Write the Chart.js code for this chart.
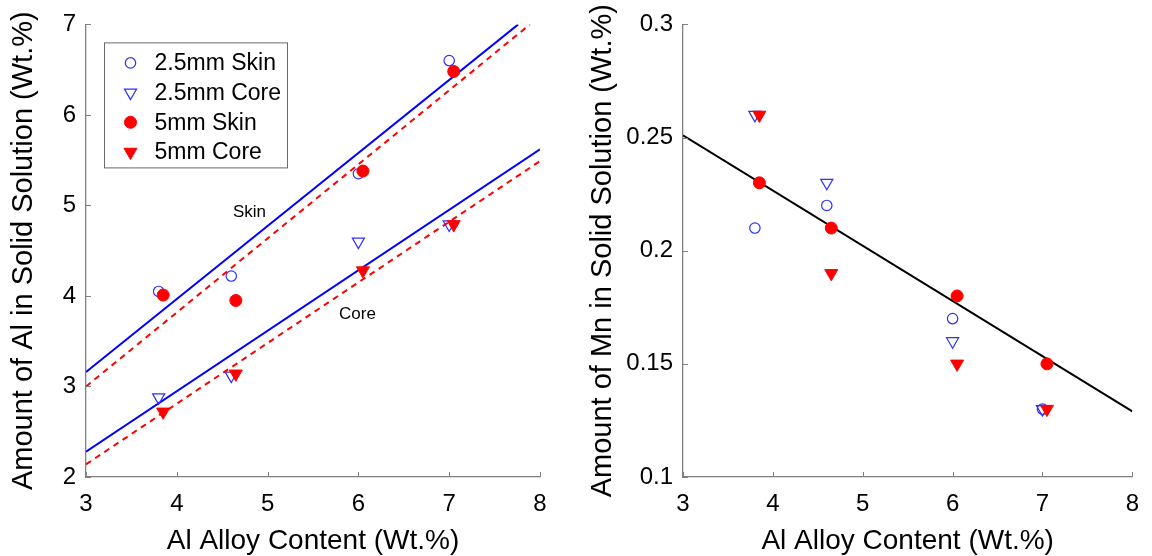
<!DOCTYPE html>
<html><head><meta charset="utf-8">
<script src="https://cdn.jsdelivr.net/npm/chart.js@4/dist/chart.umd.min.js"></script>
<style>html,body{margin:0;padding:0;background:#fff;overflow:hidden;width:1152px;height:556px}
canvas{position:absolute;top:0}
#c1{left:0}#c2{left:576px}</style></head>
<body><canvas id="c1" width="576" height="556"></canvas><canvas id="c2" width="576" height="556"></canvas>
<script>
const FONT = "'Liberation Sans', Arial, Helvetica, sans-serif";
// x positions of samples (2.5 mm and 5 mm are slightly offset in the figure)
const x25 = [3.8, 4.6, 6.0, 7.0];
const x5 = [3.85, 4.65, 6.05, 7.05];
// Amount of Al in solid solution
const alSkin25 = [4.05, 4.22, 5.35, 6.60];
const alCore25 = [2.88, 3.12, 4.60, 4.79];
const alSkin5 = [4.01, 3.95, 5.38, 6.48];
const alCore5 = [2.72, 3.14, 4.28, 4.79];
// Fit lines (endpoints)
const fitSkin25X = [3, 7.76], fitSkin25Y = [3.16, 7.0];
const fitSkin5X = [3, 7.89], fitSkin5Y = [3.0, 7.0];
const fitCore25X = [3, 8], fitCore25Y = [2.28, 5.62];
const fitCore5X = [3, 8], fitCore5Y = [2.14, 5.49];
// Amount of Mn in solid solution
const mnSkin25 = [0.21, 0.22, 0.17, 0.13];
const mnCore25 = [0.26, 0.23, 0.16, 0.13];
const mnSkin5 = [0.23, 0.21, 0.18, 0.15];
const mnCore5 = [0.26, 0.19, 0.15, 0.13];
const fitMnX = [3, 8], fitMnY = [0.251, 0.129];
// ticks & labels
const xTicks = [3, 4, 5, 6, 7, 8];
const alTicks = [2, 3, 4, 5, 6, 7];
const mnTicks = [0.1, 0.15, 0.2, 0.25, 0.3];
const seriesNames = ['2.5mm Skin', '2.5mm Core', '5mm Skin', '5mm Core'];
const xTitle = 'Al Alloy Content (Wt.%)';
const alTitle = 'Amount of Al in Solid Solution (Wt.%)';
const mnTitle = 'Amount of Mn in Solid Solution (Wt.%)';
const annotations = [{text: 'Skin', x: 4.8, y: 4.92}, {text: 'Core', x: 5.99, y: 3.8}];

const BLUE = '#2f2fff', RED = '#ff0000', AXIS = '#808080';
const pts = (xs, ys) => xs.map((x, i) => ({x: x, y: ys[i]}));

const markerStyles = [
  {pointStyle: 'circle', pointRadius: 5.2, pointRotation: 0, backgroundColor: 'rgba(0,0,0,0)', borderColor: BLUE, borderWidth: 1.2},
  {pointStyle: 'triangle', pointRadius: 7, pointRotation: 180, backgroundColor: 'rgba(0,0,0,0)', borderColor: BLUE, borderWidth: 1.2},
  {pointStyle: 'circle', pointRadius: 6, pointRotation: 0, backgroundColor: RED, borderColor: RED, borderWidth: 1},
  {pointStyle: 'triangle', pointRadius: 7.5, pointRotation: 180, backgroundColor: RED, borderColor: RED, borderWidth: 1}
];

function scatterSet(i, data, order) {
  const s = markerStyles[i];
  return Object.assign({label: seriesNames[i], data: data, showLine: false, order: order,
    pointHoverRadius: s.pointRadius}, s);
}
function lineSet(data, color, dash, order) {
  return {label: '', data: data, showLine: true, pointRadius: 0, borderColor: color, borderWidth: 2,
    borderDash: dash, backgroundColor: color, order: order, fill: false, tension: 0};
}

const inwardTicks = {
  id: 'inwardTicks',
  afterDraw(chart) {
    const ctx = chart.ctx, xs = chart.scales.x, ys = chart.scales.y;
    ctx.save();
    ctx.strokeStyle = AXIS; ctx.lineWidth = 1;
    ctx.beginPath();
    xs.ticks.forEach(t => { const p = Math.round(xs.getPixelForValue(t.value)) + 0.5;
      ctx.moveTo(p, ys.bottom); ctx.lineTo(p, ys.bottom - 5); });
    ys.ticks.forEach(t => { const p = Math.round(ys.getPixelForValue(t.value)) + 0.5;
      ctx.moveTo(xs.left, p); ctx.lineTo(xs.left + 5, p); });
    ctx.stroke();
    ctx.restore();
  }
};

function drawMarker(ctx, s, x, y) {
  ctx.save();
  ctx.beginPath();
  const r = s.pointRadius;
  if (s.pointStyle === 'circle') {
    ctx.arc(x, y, r, 0, Math.PI * 2);
  } else {
    let rad = s.pointRotation * Math.PI / 180;
    for (let k = 0; k < 3; k++) {
      const px = x + Math.sin(rad) * r, py = y - Math.cos(rad) * r;
      if (k === 0) ctx.moveTo(px, py); else ctx.lineTo(px, py);
      rad += 2 * Math.PI / 3;
    }
    ctx.closePath();
  }
  ctx.fillStyle = s.backgroundColor; ctx.fill();
  ctx.strokeStyle = s.borderColor; ctx.lineWidth = s.borderWidth; ctx.stroke();
  ctx.restore();
}

const legendAndNotes = {
  id: 'legendAndNotes',
  afterDraw(chart) {
    const ctx = chart.ctx, a = chart.chartArea, xs = chart.scales.x, ys = chart.scales.y;
    ctx.save();
    // annotations
    ctx.fillStyle = '#000'; ctx.font = '17px ' + FONT;
    ctx.textAlign = 'center'; ctx.textBaseline = 'middle';
    annotations.forEach(n => ctx.fillText(n.text, xs.getPixelForValue(n.x), ys.getPixelForValue(n.y)));
    // legend box
    const bx = a.left + 18.5, by = a.top + 18.5, bw = 183, bh = 125;
    ctx.fillStyle = '#fff'; ctx.fillRect(bx, by, bw, bh);
    ctx.strokeStyle = '#6a6a6a'; ctx.lineWidth = 1; ctx.strokeRect(bx, by, bw, bh);
    ctx.font = '23px ' + FONT; ctx.textAlign = 'left'; ctx.fillStyle = '#000';
    seriesNames.forEach((name, i) => {
      const y = by + 20 + i * 29.7;
      drawMarker(ctx, markerStyles[i], bx + 26, y);
      ctx.fillText(name, bx + 50, y + 1);
    });
    ctx.restore();
  }
};

function axes(yTicks, yMin, yMax, yTitle, yWidth, yTitlePad) {
  return {
    x: {type: 'linear', position: 'bottom', min: 3, max: 8,
      afterBuildTicks: s => { s.ticks = xTicks.map(v => ({value: v})); },
      afterFit: s => { s.height = 79; },
      ticks: {color: '#000', font: {family: FONT, size: 24}, padding: 13, maxRotation: 0, autoSkip: false,
        callback: v => String(v)},
      grid: {display: true, drawOnChartArea: false, drawTicks: false},
      border: {display: true, color: AXIS, width: 1.3},
      title: {display: true, text: xTitle, color: '#000', font: {family: FONT, size: 28}, padding: {top: 0, bottom: -2}}
    },
    y: {type: 'linear', position: 'left', min: yMin, max: yMax,
      afterBuildTicks: s => { s.ticks = yTicks.map(v => ({value: v})); },
      afterFit: s => { s.width = yWidth; },
      ticks: {color: '#000', font: {family: FONT, size: 24}, padding: 10, autoSkip: false,
        callback: v => String(v)},
      grid: {display: true, drawOnChartArea: false, drawTicks: false},
      border: {display: true, color: AXIS, width: 1.3},
      title: {display: true, text: yTitle, color: '#000', font: {family: FONT, size: 29}, padding: {top: yTitlePad, bottom: 0}}
    }
  };
}

const common = {
  responsive: false, animation: false, events: [], devicePixelRatio: 1,
  plugins: {legend: {display: false}, tooltip: {enabled: false}}
};

new Chart(document.getElementById('c1'), {
  type: 'scatter',
  data: {datasets: [
    scatterSet(3, pts(x5, alCore5), 0),
    scatterSet(2, pts(x5, alSkin5), 1),
    scatterSet(1, pts(x25, alCore25), 2),
    scatterSet(0, pts(x25, alSkin25), 3),
    lineSet(pts(fitSkin25X, fitSkin25Y), '#0000ff', [], 5),
    lineSet(pts(fitSkin5X, fitSkin5Y), RED, [6, 5], 4),
    lineSet(pts(fitCore25X, fitCore25Y), '#0000ff', [], 5),
    lineSet(pts(fitCore5X, fitCore5Y), RED, [6, 5], 4)
  ]},
  options: Object.assign({}, common, {
    layout: {padding: {left: 0, top: 17, right: 36, bottom: 0}},
    scales: axes(alTicks, 2, 7, alTitle, 86, 7)
  }),
  plugins: [inwardTicks, legendAndNotes]
});

new Chart(document.getElementById('c2'), {
  type: 'scatter',
  data: {datasets: [
    scatterSet(3, pts(x5, mnCore5), 0),
    scatterSet(2, pts(x5, mnSkin5), 1),
    scatterSet(1, pts(x25, mnCore25), 2),
    scatterSet(0, pts(x25, mnSkin25), 3),
    lineSet(pts(fitMnX, fitMnY), '#000000', [], 5)
  ]},
  options: Object.assign({}, common, {
    layout: {padding: {left: 0, top: 17, right: 14, bottom: 0}},
    scales: axes(mnTicks, 0.1, 0.3, mnTitle, 107, 10)
  }),
  plugins: [inwardTicks]
});
</script>
</body></html>
